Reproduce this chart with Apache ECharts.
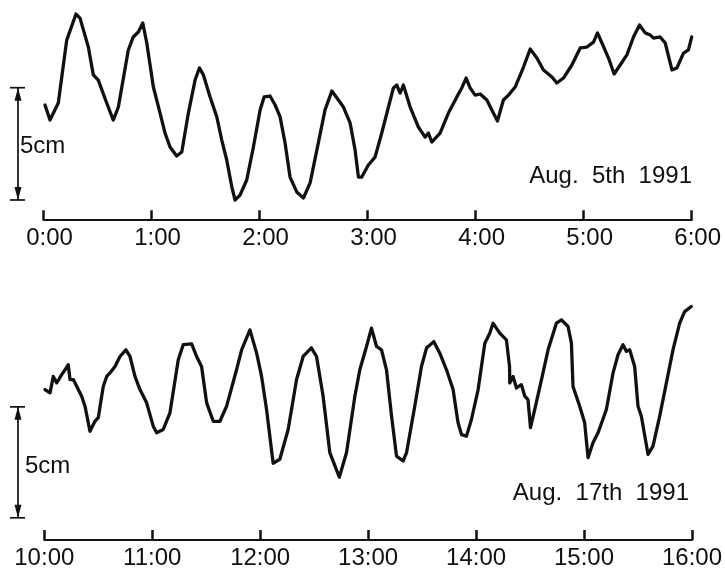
<!DOCTYPE html>
<html>
<head>
<meta charset="utf-8">
<script src="https://cdn.jsdelivr.net/npm/echarts@6/dist/echarts.min.js"></script>
<style>
  html, body { margin: 0; padding: 0; background: #ffffff; }
  #chart { width: 725px; height: 570px; }
</style>
</head>
<body>
<div id="chart"></div>
<script>
// ---------------- DATA ----------------
// Upper record: Aug. 5th 1991 (time in hours, water level in cm)
const topTimes = [0.014,0.060,0.137,0.215,0.301,0.338,0.415,0.461,0.507,0.585,0.646,0.693,0.785,0.831,0.878,0.919,0.956,1.017,1.079,1.125,1.171,1.233,1.280,1.341,1.403,1.443,1.480,1.542,1.604,1.650,1.696,1.743,1.773,1.819,1.881,1.943,2.005,2.042,2.097,2.144,2.190,2.236,2.282,2.344,2.406,2.468,2.544,2.606,2.669,2.730,2.776,2.838,2.884,2.915,2.946,3.007,3.069,3.131,3.193,3.239,3.270,3.301,3.331,3.394,3.470,3.532,3.563,3.594,3.671,3.748,3.826,3.872,3.912,3.949,3.995,4.042,4.104,4.150,4.202,4.257,4.304,4.366,4.443,4.505,4.567,4.628,4.706,4.752,4.813,4.891,4.968,5.030,5.091,5.128,5.169,5.230,5.282,5.338,5.400,5.461,5.517,5.569,5.616,5.646,5.708,5.755,5.817,5.863,5.924,5.970,6.000];
const topLevels = [4.23,3.56,4.32,7.12,8.28,8.10,6.81,5.57,5.34,4.32,3.56,4.14,6.68,7.26,7.48,7.88,6.99,5.03,3.87,2.98,2.36,1.96,2.14,3.87,5.34,5.88,5.57,4.59,3.70,2.67,1.78,0.58,0.00,0.22,0.89,2.36,4.01,4.59,4.63,4.23,3.70,2.54,1.02,0.36,0.09,0.76,2.54,4.01,4.85,4.45,4.14,3.43,2.23,1.02,1.02,1.56,1.91,2.98,4.14,4.99,5.12,4.76,5.12,4.14,3.25,2.80,2.98,2.58,2.98,3.87,4.59,4.99,5.43,4.99,4.67,4.72,4.45,4.01,3.52,4.45,4.67,5.03,5.92,6.72,6.32,5.79,5.48,5.21,5.43,6.01,6.77,6.81,7.03,7.44,6.99,6.32,5.61,6.01,6.46,7.26,7.79,7.44,7.35,7.21,7.26,6.99,5.79,5.88,6.54,6.68,7.26];

// Lower record: Aug. 17th 1991
const bottomTimes = [10.006,10.053,10.083,10.115,10.161,10.192,10.222,10.238,10.269,10.346,10.377,10.423,10.469,10.500,10.546,10.578,10.608,10.655,10.701,10.756,10.794,10.840,10.886,10.948,11.009,11.041,11.102,11.164,11.241,11.287,11.365,11.411,11.457,11.504,11.565,11.627,11.689,11.781,11.828,11.905,11.967,12.013,12.059,12.120,12.182,12.259,12.337,12.398,12.474,12.522,12.583,12.645,12.733,12.800,12.877,12.923,12.985,13.031,13.078,13.124,13.170,13.217,13.263,13.324,13.356,13.432,13.494,13.541,13.608,13.664,13.726,13.787,13.833,13.865,13.911,13.957,14.019,14.081,14.127,14.157,14.219,14.281,14.310,14.312,14.343,14.374,14.420,14.451,14.481,14.504,14.543,14.606,14.667,14.744,14.791,14.852,14.883,14.898,14.960,15.006,15.037,15.083,15.130,15.207,15.269,15.315,15.361,15.393,15.423,15.469,15.500,15.531,15.593,15.639,15.701,15.763,15.824,15.886,15.932,15.994];
const bottomLevels = [5.78,5.63,6.37,6.08,6.45,6.67,6.90,6.23,6.23,5.48,5.03,3.90,4.35,4.51,5.92,6.37,6.53,6.82,7.27,7.57,7.27,6.37,5.78,5.18,4.13,3.83,3.98,4.73,7.12,7.80,7.84,7.27,6.82,5.18,4.35,4.35,5.03,6.67,7.57,8.47,7.42,6.37,4.88,2.46,2.64,3.98,6.23,7.27,7.66,7.27,5.48,2.94,1.83,2.94,5.48,6.67,7.72,8.55,7.72,7.57,6.67,4.58,2.78,2.56,2.94,5.03,6.82,7.65,7.94,7.42,6.67,5.78,4.28,3.75,3.68,4.43,5.78,7.87,8.32,8.77,8.32,8.02,6.82,6.08,6.37,5.85,6.00,5.48,5.33,4.06,4.88,6.23,7.57,8.77,8.92,8.62,7.87,5.92,5.03,4.28,2.71,3.38,3.83,4.88,6.53,7.35,7.80,7.50,7.57,6.82,5.03,4.58,2.86,3.23,4.58,6.08,7.57,8.77,9.29,9.52];

// Axis tick labels
const topTickValues = [0, 1, 2, 3, 4, 5, 6];
const topTickLabels = ['0:00', '1:00', '2:00', '3:00', '4:00', '5:00', '6:00'];
const bottomTickValues = [10, 11, 12, 13, 14, 15, 16];
const bottomTickLabels = ['10:00', '11:00', '12:00', '13:00', '14:00', '15:00', '16:00'];

// Scale bar: 5 cm
const scaleFrom = 0;
const scaleTo = 5;
const scaleLabel = '5cm';
const topDateLabel = 'Aug.  5th  1991';
const bottomDateLabel = 'Aug.  17th  1991';

// ---------------- CHART ----------------
const INK = '#111111';
const FONT = '"Liberation Sans", Arial, Helvetica, sans-serif';

function zip(a, b) { return a.map((v, i) => [v, b[i]]); }

function labelFor(values, labels) {
  return function (v) {
    const i = values.findIndex(t => Math.abs(t - v) < 1e-6);
    return i >= 0 ? labels[i] : '';
  };
}

function scaleRenderer(offset) {
  return function (params, api) {
    const p0 = api.coord([api.value(0), api.value(1)]);
    const p1 = api.coord([api.value(0), api.value(2)]);
    const x = p0[0] + offset;
    const yb = p0[1], yt = p1[1];
    const st = { stroke: INK, lineWidth: 1.7 };
    return {
      type: 'group',
      children: [
        { type: 'line', shape: { x1: x, y1: yb, x2: x, y2: yt }, style: st },
        { type: 'line', shape: { x1: x - 8, y1: yt, x2: x + 7, y2: yt }, style: st },
        { type: 'line', shape: { x1: x - 8, y1: yb, x2: x + 7, y2: yb }, style: st },
        { type: 'polygon', shape: { points: [[x, yt], [x - 3.5, yt + 13], [x + 3.5, yt + 13]] }, style: { fill: INK } },
        { type: 'polygon', shape: { points: [[x, yb], [x - 3.5, yb - 13], [x + 3.5, yb - 13]] }, style: { fill: INK } }
      ]
    };
  };
}

function xAxisCfg(gridIndex, min, max, values, labels, shift) {
  return {
    type: 'value', gridIndex: gridIndex, min: min, max: max, interval: 1,
    axisLine: { show: true, onZero: false, lineStyle: { color: INK, width: 2.2 } },
    axisTick: { show: true, inside: true, length: 10, lineStyle: { color: INK, width: 2.5 } },
    splitLine: { show: false },
    axisLabel: {
      show: true, margin: 6, color: INK, fontSize: 24, fontFamily: FONT,
      padding: [0, 0, 0, shift],
      formatter: labelFor(values, labels)
    }
  };
}

const chart = echarts.init(document.getElementById('chart'), null, { renderer: 'canvas' });

chart.setOption({
  backgroundColor: '#ffffff',
  animation: false,
  grid: [
    { left: 43.5, width: 648.2, top: 9.1, height: 211.1 },
    { left: 44.3, width: 648.0, top: 295.9, height: 245.1 }
  ],
  xAxis: [
    xAxisCfg(0, 0, 6, topTickValues, topTickLabels, 12),
    xAxisCfg(1, 10, 16, bottomTickValues, bottomTickLabels, 0)
  ],
  yAxis: [
    { type: 'value', gridIndex: 0, min: -0.9, max: 8.5, show: false },
    { type: 'value', gridIndex: 1, min: -1, max: 10, show: false }
  ],
  title: [
    { text: topDateLabel, right: 33, top: 164, padding: 0,
      textStyle: { fontSize: 24, fontWeight: 'normal', color: INK, fontFamily: FONT } },
    { text: bottomDateLabel, right: 36, top: 481, padding: 0,
      textStyle: { fontSize: 24, fontWeight: 'normal', color: INK, fontFamily: FONT } },
    { text: scaleLabel, left: 20, top: 134, padding: 0,
      textStyle: { fontSize: 24, fontWeight: 'normal', color: INK, fontFamily: FONT } },
    { text: scaleLabel, left: 25, top: 454, padding: 0,
      textStyle: { fontSize: 24, fontWeight: 'normal', color: INK, fontFamily: FONT } }
  ],
  series: [
    {
      type: 'line', xAxisIndex: 0, yAxisIndex: 0,
      data: zip(topTimes, topLevels),
      showSymbol: false, smooth: false,
      lineStyle: { color: INK, width: 3.3, join: 'round', cap: 'round' }
    },
    {
      type: 'line', xAxisIndex: 1, yAxisIndex: 1,
      data: zip(bottomTimes, bottomLevels),
      showSymbol: false, smooth: false,
      lineStyle: { color: INK, width: 3.3, join: 'round', cap: 'round' }
    },
    {
      type: 'custom', xAxisIndex: 0, yAxisIndex: 0, clip: false,
      data: [[0, scaleFrom, scaleTo]],
      encode: { x: 0, y: [1, 2] },
      renderItem: scaleRenderer(-25.5)
    },
    {
      type: 'custom', xAxisIndex: 1, yAxisIndex: 1, clip: false,
      data: [[10, scaleFrom, scaleTo]],
      encode: { x: 0, y: [1, 2] },
      renderItem: scaleRenderer(-26.3)
    }
  ]
});
</script>
</body>
</html>
